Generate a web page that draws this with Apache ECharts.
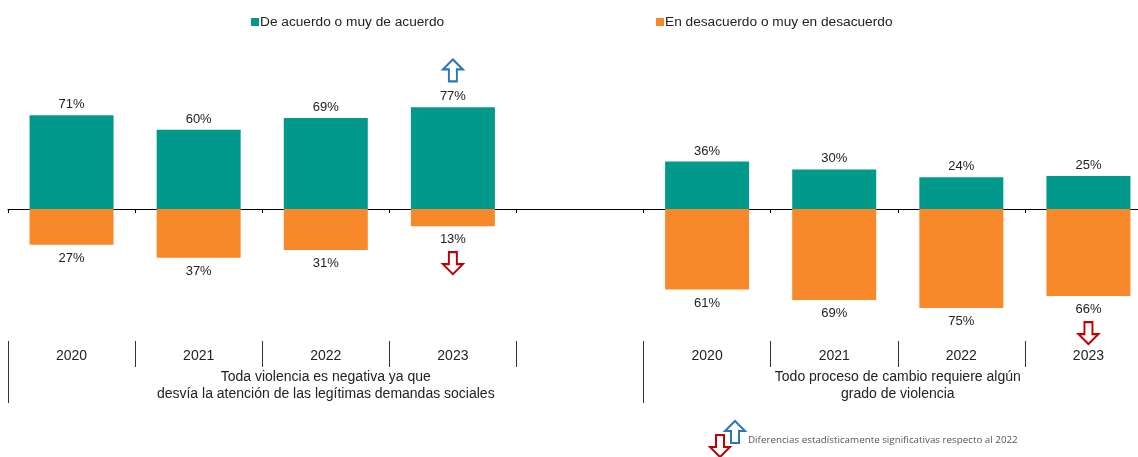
<!DOCTYPE html>
<html>
<head>
<meta charset="utf-8">
<script src="https://cdn.jsdelivr.net/npm/echarts@6/dist/echarts.min.js"></script>
<style>
  html, body { margin: 0; padding: 0; background: #fff; overflow: hidden; }
  #chart { width: 1152px; height: 457px; }
</style>
</head>
<body>
<div id="chart"></div>
<script>
// Data
const years = ['2020', '2021', '2022', '2023', '', '2020', '2021', '2022', '2023'];
const agree = [71, 60, 69, 77, null, 36, 30, 24, 25];
const disagree = [27, 37, 31, 13, null, 61, 69, 75, 66];
const groupNames = [
    'Toda violencia es negativa ya que\ndesvía la atención de las legítimas demandas sociales',
    'Todo proceso de cambio requiere algún\ngrado de violencia'
];
const groupSlots = [[0, 4], [5, 8]];
const upArrowIdx = [3];       // significant increase (agree)
const downArrowIdx = [3, 8];  // significant decrease (disagree)
const seriesNames = ['De acuerdo o muy de acuerdo', 'En desacuerdo o muy en desacuerdo'];
const footnote = 'Diferencias estadísticamente significativas respecto al 2022';

const TEAL = '#00998B';
const ORANGE = '#F8892B';
const BLUE = '#2E75B6';
const RED = '#C00000';
const FONT = 'Liberation Sans, Arial, sans-serif';
const UP = 'path://M10,0 L20,10 L14,10 L14,22 L6,22 L6,10 L0,10 Z';
const DOWN = 'path://M6,0 L14,0 L14,12 L20,12 L10,22 L0,12 L6,12 Z';

const chart = echarts.init(document.getElementById('chart'));

const baseX = {
    type: 'category',
    data: years,
    position: 'bottom',
    boundaryGap: true,
    splitLine: { show: false }
};

const legendText = { fontSize: 13.7, color: '#222', fontFamily: FONT, padding: [0, 0, 0, -4] };

const option = {
    animation: false,
    textStyle: { fontFamily: FONT },
    legend: [
        {
            data: [seriesNames[0]], left: 246, top: 10,
            itemWidth: 8, itemHeight: 8, itemGap: 4, icon: 'rect',
            textStyle: legendText
        },
        {
            data: [seriesNames[1]], left: 651, top: 10,
            itemWidth: 8, itemHeight: 8, itemGap: 4, icon: 'rect',
            textStyle: legendText
        }
    ],
    grid: { left: 8, top: 77, right: 0, height: 264, containLabel: false },
    yAxis: { type: 'value', min: -100, max: 100, show: false },
    xAxis: [
        Object.assign({}, baseX, {
            axisLine: { onZero: true, lineStyle: { color: '#000', width: 1 } },
            axisTick: { show: true, length: 4, lineStyle: { color: '#000' } },
            axisLabel: { show: false }
        }),
        Object.assign({}, baseX, {
            axisLine: { show: false, onZero: false },
            axisTick: { show: true, length: 26, lineStyle: { color: '#333' } },
            axisLabel: { show: true, margin: 8, fontSize: 14, color: '#222', fontFamily: FONT, interval: 0 }
        }),
        Object.assign({}, baseX, {
            axisLine: { show: false, onZero: false },
            axisTick: {
                show: true, length: 62, lineStyle: { color: '#333' },
                interval: function (idx) { return idx === 0 || idx === 5; }
            },
            axisLabel: { show: false }
        })
    ],
    series: [
        {
            name: seriesNames[0],
            type: 'bar',
            data: agree,
            barWidth: 84,
            barGap: '-100%',
            itemStyle: { color: TEAL },
            label: {
                show: true, position: 'top', distance: 4,
                fontSize: 13, color: '#222', fontFamily: FONT,
                formatter: p => Math.abs(p.value) + '%'
            },
            markPoint: {
                symbol: UP,
                symbolSize: [20, 22],
                symbolOffset: [0, -37],
                itemStyle: { color: '#fff', borderColor: BLUE, borderWidth: 2 },
                label: { show: false },
                data: upArrowIdx.map(i => ({ coord: [i, agree[i]] }))
            }
        },
        {
            name: seriesNames[1],
            type: 'bar',
            data: disagree.map(v => v == null ? null : -v),
            barWidth: 84,
            barGap: '-100%',
            itemStyle: { color: ORANGE },
            label: {
                show: true, position: 'bottom', distance: 7,
                fontSize: 13, color: '#222', fontFamily: FONT,
                formatter: p => Math.abs(p.value) + '%'
            },
            markPoint: {
                symbol: DOWN,
                symbolSize: [20, 22],
                symbolOffset: [0, 37],
                itemStyle: { color: '#fff', borderColor: RED, borderWidth: 2 },
                label: { show: false },
                data: downArrowIdx.map(i => ({ coord: [i, -disagree[i]] }))
            }
        }
    ]
};

chart.setOption(option);

// Group labels centred under their slots
const groupText = groupNames.map((name, g) => {
    const a = chart.convertToPixel({ xAxisIndex: 0 }, groupSlots[g][0]);
    const b = chart.convertToPixel({ xAxisIndex: 0 }, groupSlots[g][1]);
    return {
        type: 'text',
        x: (a + b) / 2,
        y: 369,
        style: {
            text: name, fill: '#222', font: '14px ' + FONT,
            align: 'center', verticalAlign: 'top', lineHeight: 17
        }
    };
});

// small arrows for the footnote
function arrowPoints(x, y, s, up) {
    const pts = up
        ? [[10, 0], [20, 10], [14, 10], [14, 22], [6, 22], [6, 10], [0, 10]]
        : [[6, 0], [14, 0], [14, 12], [20, 12], [10, 22], [0, 12], [6, 12]];
    return pts.map(p => [x + p[0] * s, y + p[1] * s]);
}

chart.setOption({
    graphic: groupText.concat([
        {
            type: 'polygon', shape: { points: arrowPoints(725, 421, 1, true) },
            style: { fill: '#fff', stroke: BLUE, lineWidth: 2 }
        },
        {
            type: 'polygon', shape: { points: arrowPoints(710, 435, 1, false) },
            style: { fill: '#fff', stroke: RED, lineWidth: 2 }
        },
        {
            type: 'text', x: 748, y: 440,
            style: {
                text: footnote, fill: '#555', font: '9.8px "Open Sans", sans-serif',
                verticalAlign: 'middle'
            }
        }
    ])
});
</script>
</body>
</html>
